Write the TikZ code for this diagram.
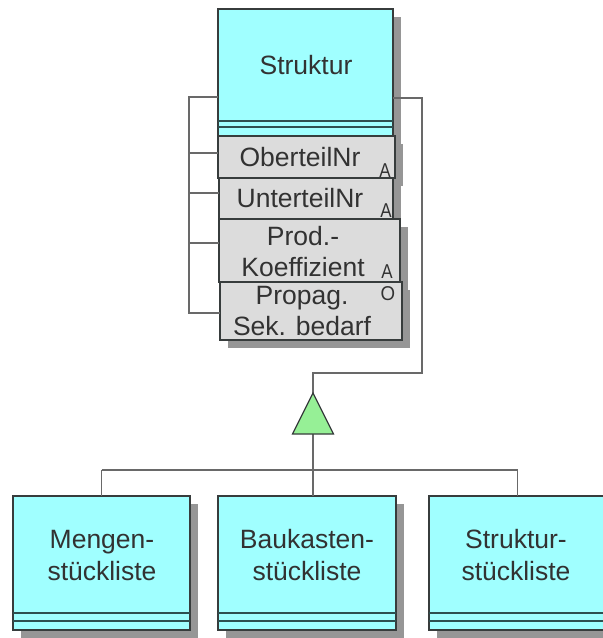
\documentclass[tikz,border=0pt]{standalone}
\usepackage{fontspec}
\setmainfont{Liberation Sans}
\usetikzlibrary{shadows,calc}
\definecolor{cyanfill}{RGB}{160,255,255}
\definecolor{attrfill}{RGB}{220,220,220}
\definecolor{boxborder}{RGB}{55,60,60}
\definecolor{stripecol}{RGB}{45,80,80}
\definecolor{linecol}{RGB}{105,105,105}
\definecolor{txtcol}{RGB}{50,50,50}
\definecolor{trigreen}{RGB}{150,240,150}
\definecolor{shadowcol}{RGB}{150,150,150}
\tikzset{
  shadowbox/.style={drop shadow={shadow xshift=8pt, shadow yshift=-8pt, opacity=1, fill=shadowcol}},
  clsbox/.style={draw=boxborder, line width=1.2pt, fill=cyanfill, inner sep=0pt, outer sep=0pt, shadowbox},
  attrbox/.style={draw=boxborder, line width=1.2pt, fill=attrfill, inner sep=0pt, outer sep=0pt, shadowbox},
  stripe/.style={draw=stripecol, line width=1.2pt},
  conn/.style={draw=linecol, line width=1.5pt},
  lbl/.style={text=txtcol, font=\fontsize{26.5}{32}\selectfont, inner sep=0pt, align=center},
  lbltwo/.style={text=txtcol, font=\fontsize{26.5}{31}\selectfont, inner sep=0pt, align=center},
  markA/.style={text=txtcol, font=\fontsize{20}{20}\selectfont, inner sep=0pt, anchor=base, xscale=0.85},
  trishape/.style={draw=boxborder, line width=1.2pt, fill=trigreen, line join=miter},
}
\begin{document}
\begin{tikzpicture}[x=1pt, y=-1pt]
\useasboundingbox (0,0) rectangle (603,638);
\clip (0,0) rectangle (603,638);
% class boxes
\node[clsbox, minimum width=175pt, minimum height=127pt] (struktur) at (305.5,72.5) {};
\draw[stripe] ([yshift=15pt]struktur.south west) -- ([yshift=15pt]struktur.south east);
\draw[stripe] ([yshift=9pt]struktur.south west) -- ([yshift=9pt]struktur.south east);
\node[lbl, anchor=base] (tstruktur) at (306,74) {Struktur};
% attribute boxes
\node[attrbox, minimum width=177pt, minimum height=42pt] (oberteil) at (306.5,157) {};
\node[lbl, anchor=base] (toberteil) at (300,166) {OberteilNr};
\node[markA] (moberteil) at (385,177) {A};
\node[attrbox, minimum width=174pt, minimum height=41pt] (unterteil) at (306,198.5) {};
\node[lbl, anchor=base] (tunterteil) at (300,207) {UnterteilNr};
\node[markA] (munterteil) at (386,217) {A};
\node[attrbox, minimum width=181pt, minimum height=63pt] (prod) at (309.5,250.5) {};
\node[lbltwo] (tprod) at (303,252) {Prod.-\\Koeffizient};
\node[markA] (mprod) at (387,278) {A};
\node[attrbox, minimum width=182pt, minimum height=58pt] (propag) at (311,311) {};
\node[lbltwo] (tpropag) at (302,311) {Propag.\\Sek. bedarf};
\node[markA, xscale=1.1] (mpropag) at (388,300) {O};
% subclass boxes
\node[clsbox, minimum width=177pt, minimum height=134pt] (mengen) at (101.5,563) {};
\node[clsbox, minimum width=178pt, minimum height=134pt] (baukasten) at (307,563) {};
\node[clsbox, minimum width=177pt, minimum height=134pt] (strukturstl) at (517.5,563) {};
\foreach \b in {mengen,baukasten,strukturstl}{
  \draw[stripe] ([yshift=17pt]\b.south west) -- ([yshift=17pt]\b.south east);
  \draw[stripe] ([yshift=9pt]\b.south west) -- ([yshift=9pt]\b.south east);
}
\node[lbl] (tmengen) at (102,555.5) {Mengen-\\stückliste};
\node[lbl] (tbaukasten) at (307,555.5) {Baukasten-\\stückliste};
\node[lbl] (tstrukturstl) at (516,555.5) {Struktur-\\stückliste};
% left bracket
\coordinate (bt) at (189,97);
\coordinate (bb) at (189,313);
\draw[conn] ([yshift=-24.5pt]struktur.west) -- (bt) -- (bb) -- (propag.west |- bb);
\draw[conn] ([yshift=4pt]oberteil.west) -- ([yshift=4pt]oberteil.west -| bt);
\draw[conn] ([yshift=5.5pt]unterteil.west) -- ([yshift=5.5pt]unterteil.west -| bt);
\draw[conn] ([yshift=7.5pt]prod.west) -- ([yshift=7.5pt]prod.west -| bt);
% generalization
\coordinate (rt) at (422,98);
\coordinate (rb) at (422,373);
\coordinate (tm) at (313,373);
\coordinate (tritop) at (313,393);
\coordinate (tribase) at (313,434);
\coordinate (hj) at (313,470);
\draw[conn] (struktur.east |- rt) -- (rt) -- (rb) -- (tm) -- (tritop);
\draw[conn] (tribase) -- (tribase |- baukasten.north);
\draw[conn] (mengen.north |- hj) -- (strukturstl.north |- hj);
\draw[conn] (mengen.north |- hj) -- (mengen.north);
\draw[conn] (strukturstl.north |- hj) -- (strukturstl.north);
\draw[trishape] (tritop) -- (292.5,434) -- (333.5,434) -- cycle;
\end{tikzpicture}
\end{document}
